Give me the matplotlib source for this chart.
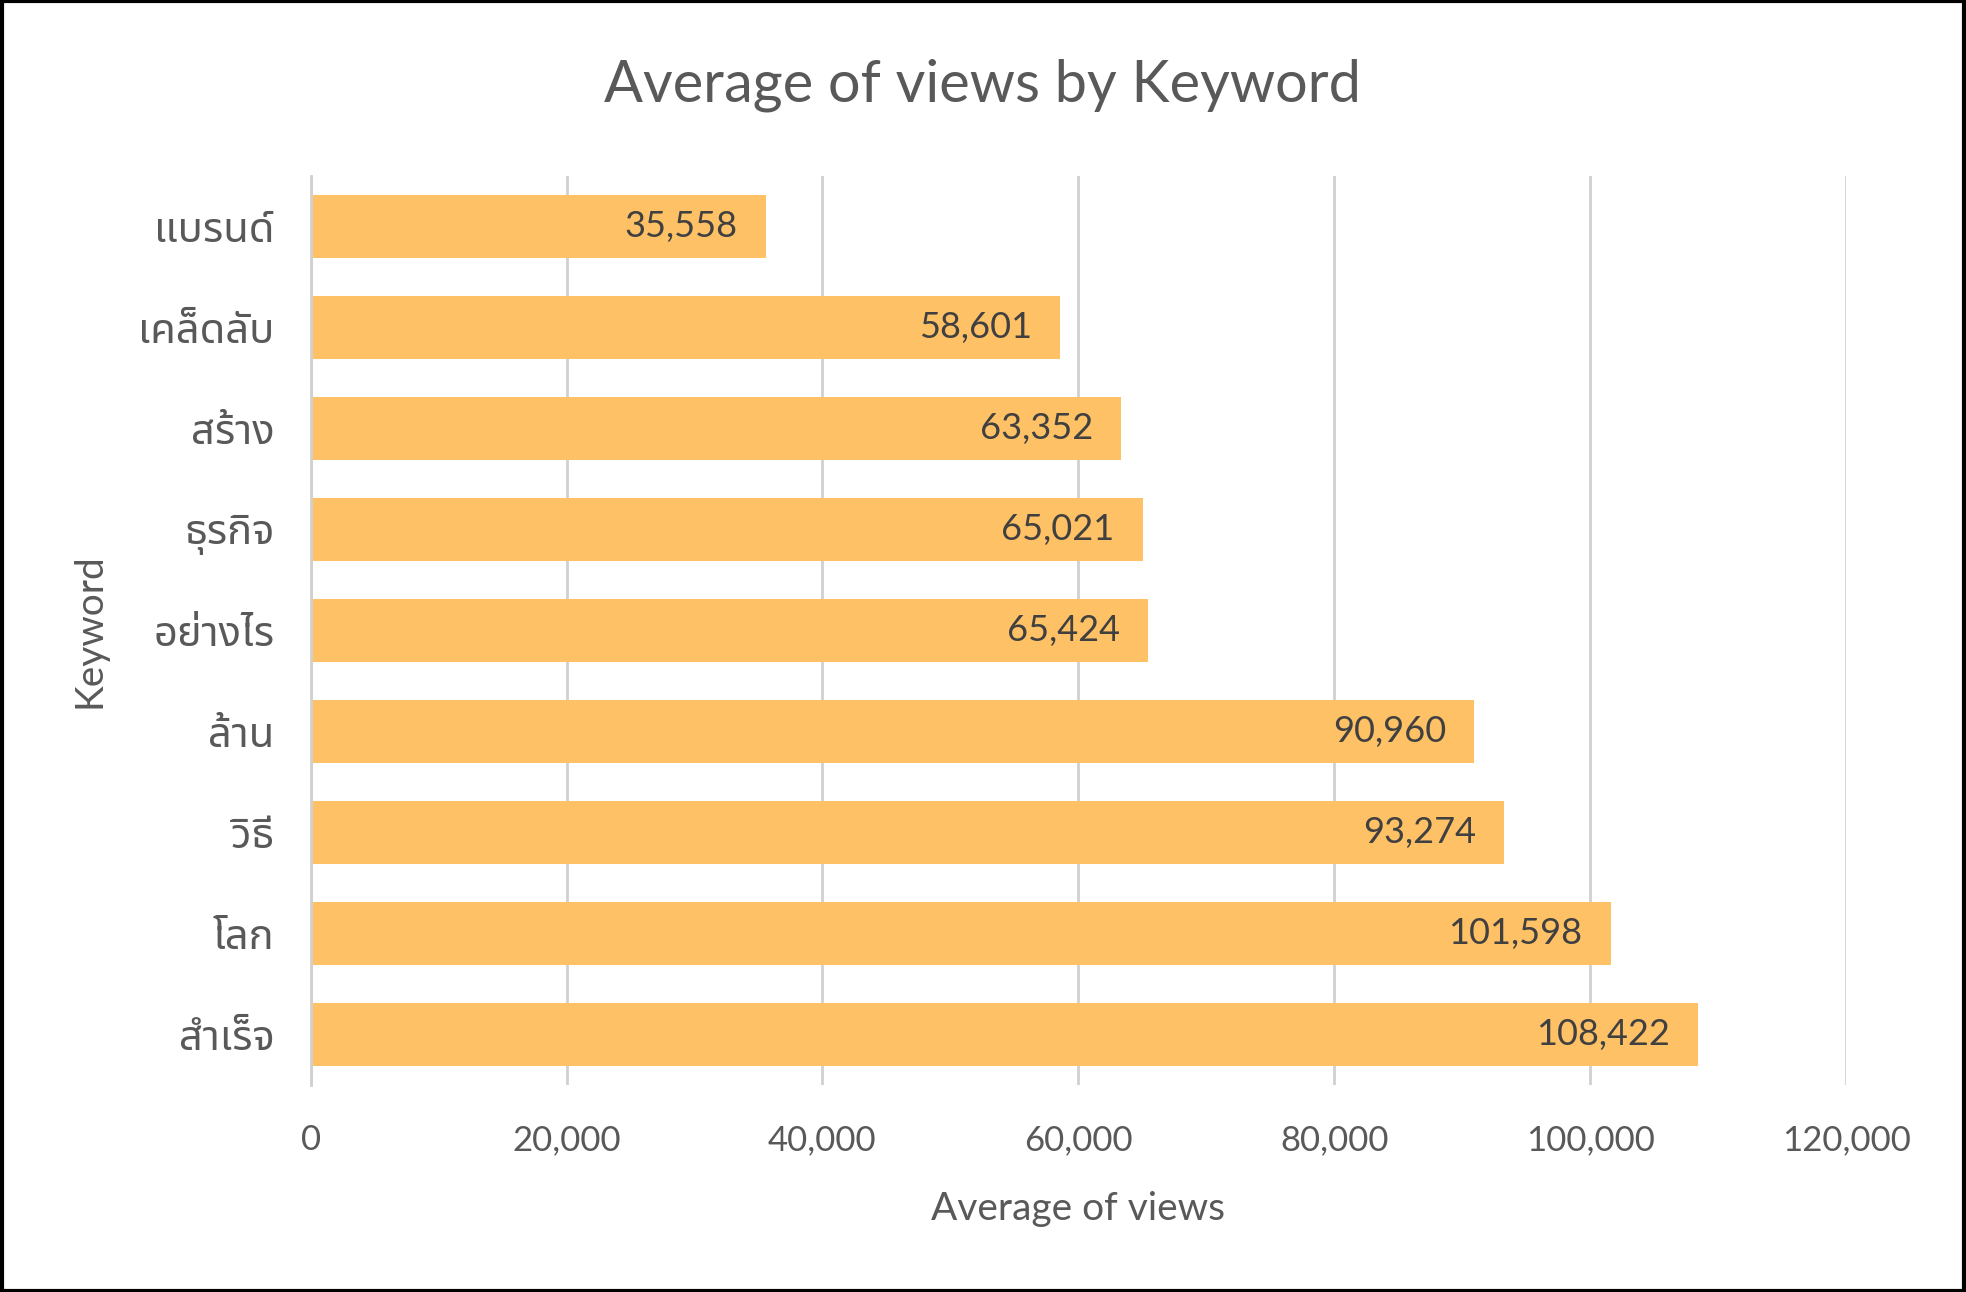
import matplotlib
matplotlib.use('Agg')
import matplotlib.pyplot as plt
from matplotlib.ticker import FuncFormatter

keywords = ['แบรนด์', 'เคล็ดลับ', 'สร้าง', 'ธุรกิจ', 'อย่างไร', 'ล้าน', 'วิธี', 'โลก', 'สำเร็จ']
avg_views = [35558, 58601, 63352, 65021, 65424, 90960, 93274, 101598, 108422]
x_ticks = [0, 20000, 40000, 60000, 80000, 100000, 120000]

FONTS = ['Lato', 'Noto Sans Thai', 'Noto Sans Thai UI', 'Noto Serif Thai', 'Loma',
         'Garuda', 'Tlwg Typo', 'Sarabun', 'Noto Sans', 'DejaVu Sans']
plt.rcParams['font.family'] = FONTS
TXT = '#595959'
BAR = '#FEC166'

fig = plt.figure(figsize=(19.66, 12.92), dpi=100)
ax = fig.add_axes([0.158, 0.160, 0.781, 0.704])

ypos = list(range(len(keywords)))
ax.barh(ypos, avg_views, height=0.62, color=BAR, zorder=2)
ax.set_ylim(len(keywords) - 0.5, -0.5)
ax.set_xlim(0, 120000)
ax.set_yticks(ypos)
ax.set_yticklabels(keywords, fontsize=30, color=TXT)
ax.set_xticks(x_ticks)
ax.xaxis.set_major_formatter(FuncFormatter(lambda v, _: f'{v:,.0f}'))
ax.tick_params(axis='x', labelsize=25, labelcolor=TXT, length=0, pad=28)
ax.tick_params(axis='y', length=0, pad=26)

ax.grid(axis='x', color='#D0D0D0', linewidth=2, zorder=0)
for s in ['top', 'right', 'bottom']:
    ax.spines[s].set_visible(False)
ax.spines['left'].set_color('#D0D0D0')
ax.spines['left'].set_linewidth(2)

for y, v in zip(ypos, avg_views):
    ax.text(v - 2200, y, f'{v:,}', ha='right', va='center', fontsize=26, color='#404040', zorder=3)

ax.set_xlabel('Average of views', fontsize=28, color=TXT, labelpad=25)
ax.set_ylabel('Keyword', fontsize=28, color=TXT, labelpad=22)
fig.suptitle('Average of views by Keyword', fontsize=41.5, color=TXT, y=0.955)

border = plt.Rectangle((0.001, 0.001), 0.998, 0.998, transform=fig.transFigure,
                       fill=False, edgecolor='black', linewidth=3)
fig.patches.append(border)

fig.savefig('out.png', dpi=100)
